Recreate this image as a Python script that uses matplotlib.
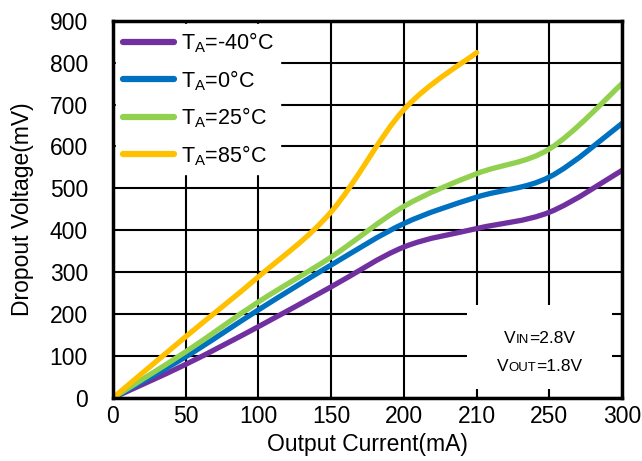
import matplotlib
matplotlib.use("Agg")
import matplotlib.pyplot as plt
from matplotlib.path import Path
from matplotlib.patches import PathPatch, Rectangle
from matplotlib.lines import Line2D
from matplotlib.offsetbox import TextArea, HPacker, VPacker, AnchoredOffsetbox

plt.rcParams['font.family'] = ['Liberation Sans', 'DejaVu Sans']
plt.rcParams['mathtext.fontset'] = 'custom'
plt.rcParams['mathtext.rm'] = 'Liberation Sans'
plt.rcParams['mathtext.it'] = 'Liberation Sans'

# Datos (eje X por categorias, como en la hoja original)
corriente = ["0", "50", "100", "150", "200", "210", "250", "300"]
v_m40 = [0, 80, 170, 265, 360, 404, 443, 543]
v_0 = [0, 98, 210, 317, 416, 479, 527, 655]
v_25 = [0, 110, 229, 336, 457, 535, 594, 750]
v_85 = [0, 146, 289, 444, 688, 824]

series = [
    ("$\\mathregular{T_A}$=-40°C", v_m40, "#7030A0"),
    ("$\\mathregular{T_A}$=0°C", v_0, "#0070C0"),
    ("$\\mathregular{T_A}$=25°C", v_25, "#92D050"),
    ("$\\mathregular{T_A}$=85°C", v_85, "#FFC000"),
]


def curva_suave(ys):
    # linea suavizada tipo Excel (Catmull-Rom -> Bezier)
    pts = list(zip(range(len(ys)), ys))
    verts = [pts[0]]
    codes = [Path.MOVETO]
    n = len(pts)
    for i in range(n - 1):
        p0 = pts[i - 1] if i > 0 else pts[i]
        p1 = pts[i]
        p2 = pts[i + 1]
        p3 = pts[i + 2] if i + 2 < n else pts[i + 1]
        c1 = (p1[0] + (p2[0] - p0[0]) / 6, p1[1] + (p2[1] - p0[1]) / 6)
        c2 = (p2[0] - (p3[0] - p1[0]) / 6, p2[1] - (p3[1] - p1[1]) / 6)
        verts += [c1, c2, p2]
        codes += [Path.CURVE4] * 3
    return Path(verts, codes)


fig = plt.figure(figsize=(6.42, 4.61), dpi=100)
ax = fig.add_axes([0.176, 0.137, 0.793, 0.818])

handles = []
for nombre, ys, color in series:
    ax.add_patch(PathPatch(curva_suave(ys), fill=False, edgecolor=color,
                           lw=3.8, capstyle="round", joinstyle="round", zorder=3))
    handles.append(Line2D([], [], color=color, lw=4.5, solid_capstyle="round"))

ax.set_xlim(0, len(corriente) - 1)
ax.set_ylim(0, 900)
ax.set_xticks(range(len(corriente)))
ax.set_xticklabels(corriente)
ax.set_yticks(range(0, 901, 100))
ax.tick_params(length=0, labelsize=16.5)
ax.tick_params(axis="x", pad=5)
ax.tick_params(axis="y", pad=18)
ax.grid(True, color="black", lw=1.5)
for s in ax.spines.values():
    s.set_linewidth(2.5)
    s.set_zorder(5)

ax.set_xlabel("Output Current(mA)", fontsize=16.5, labelpad=4)
ax.set_ylabel("Dropout Voltage(mV)", fontsize=16.5, labelpad=11)

leg = ax.legend(handles, [s[0] for s in series], loc="upper left",
                fontsize=15.5, frameon=True, fancybox=False, framealpha=1,
                edgecolor="white", handlelength=2.4, handletextpad=0.3,
                labelspacing=0.6, borderaxespad=0.15, borderpad=0.3)
leg.set_zorder(4)

# caja de condiciones
ax.add_patch(Rectangle((4.87, 20), 1.99, 202, facecolor="white",
                       edgecolor="none", zorder=2.5))


def texto_sub(a, b, c):
    return HPacker(children=[TextArea(a, textprops=dict(size=12.5)),
                             TextArea(b, textprops=dict(size=9.5)),
                             TextArea(c, textprops=dict(size=12.5))],
                   align="baseline", pad=0, sep=0)


caja = VPacker(children=[texto_sub("V", "IN", "=2.8V"),
                         texto_sub("V", "OUT", "=1.8V")],
               align="center", pad=0, sep=9)
anc = AnchoredOffsetbox(loc="center", child=caja, frameon=False,
                        bbox_to_anchor=(5.87, 108), bbox_transform=ax.transData,
                        pad=0, borderpad=0)
anc.set_zorder(4)
ax.add_artist(anc)

fig.savefig("out.png", dpi=100)
